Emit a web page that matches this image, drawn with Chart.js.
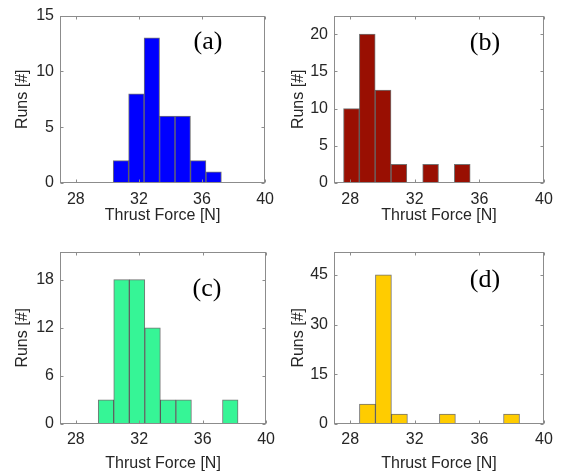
<!DOCTYPE html>
<html><head><meta charset="utf-8">
<script src="https://cdn.jsdelivr.net/npm/chart.js@4.4.0/dist/chart.umd.min.js"></script>
<style>
html,body{margin:0;padding:0;background:#fff;}
#wrap{position:relative;width:562px;height:472px;}
.p{position:absolute;width:281px;height:236px;}
canvas{display:block;}
</style></head><body>
<div id="wrap">
<div class="p" style="left:0;top:0"><canvas id="c0" width="281" height="236"></canvas></div>
<div class="p" style="left:281px;top:0"><canvas id="c1" width="281" height="236"></canvas></div>
<div class="p" style="left:0;top:236px"><canvas id="c2" width="281" height="236"></canvas></div>
<div class="p" style="left:281px;top:236px"><canvas id="c3" width="281" height="236"></canvas></div>
</div>
<script>
// ---- data ----
const xTicks = [28, 32, 36, 40];
const xMin = 27, xMax = 40;
const panelLabels = ['(a)', '(b)', '(c)', '(d)'];
const xTitle = 'Thrust Force [N]';
const yTitle = 'Runs [#]';

const binsA = [30.86, 31.84, 32.82, 33.80, 34.78, 35.76, 36.74];
const runsA = [2, 8, 13, 6, 6, 2, 1];
const binsB = [28.08, 29.06, 30.04, 31.02, 32.98, 34.94];
const runsB = [10, 20, 12.5, 2.5, 2.5, 2.5];
const binsC = [29.90, 30.88, 31.86, 32.84, 33.82, 34.80, 37.74];
const runsC = [3, 18, 18, 12, 3, 3, 3];
const binsD = [29.07, 30.06, 31.05, 34.02, 37.99];
const runsD = [6, 45, 3, 3, 3];

const yTicksA = [0, 5, 10, 15];
const yTicksB = [0, 5, 10, 15, 20];
const yTicksC = [0, 6, 12, 18];
const yTicksD = [0, 15, 30, 45];
const yMaxes = [15, 22.5, 21.5, 52];

// ---- styles / layout ----
const colors = ['#0000ff', '#990f02', '#36f596', '#ffcc00'];
const layouts = [
  {L: 60, R: 268, T: 14, B: 183, yTitlePad: 12.9, xPad: 7, xTitlePad: 11, labDX: 148, labDY: 27},
  {L: 53, R: 263, T: 14, B: 183, yTitlePad: 7.9,  xPad: 7, xTitlePad: 11, labDX: 151, labDY: 28},
  {L: 60, R: 268, T: 14, B: 188, yTitlePad: 12.9, xPad: 6, xTitlePad: -1, labDX: 147, labDY: 38},
  {L: 53, R: 263, T: 14, B: 188, yTitlePad: 7.9,  xPad: 6, xTitlePad: -1, labDX: 151, labDY: 29}
];
const W = 281, H = 236;
const font = {family: '"Liberation Sans", Arial, sans-serif', size: 16};
const textColor = '#262626';
const frameColor = '#8c8c8c';

const frame = {
  id: 'frame',
  afterDatasetsDraw(chart, args, opts) {
    const {ctx, chartArea: ca, scales: {x, y}} = chart;
    ctx.save();
    ctx.strokeStyle = frameColor;
    ctx.lineWidth = 1;
    const l = Math.round(ca.left) + 0.5, r = Math.round(ca.right) - 0.5;
    const t = Math.round(ca.top) + 0.5, b = Math.round(ca.bottom) - 0.5;
    ctx.strokeRect(l, t, r - l, b - t);
    const tl = 3;
    ctx.beginPath();
    x.ticks.forEach(tk => {
      const px = Math.round(x.getPixelForValue(tk.value)) + 0.5;
      ctx.moveTo(px, b); ctx.lineTo(px, b - tl);
      ctx.moveTo(px, t); ctx.lineTo(px, t + tl);
    });
    y.ticks.forEach(tk => {
      const py = Math.round(y.getPixelForValue(tk.value)) + 0.5;
      ctx.moveTo(l, py); ctx.lineTo(l + tl, py);
      ctx.moveTo(r, py); ctx.lineTo(r - tl, py);
    });
    ctx.stroke();
    ctx.fillStyle = '#000';
    ctx.font = '26px "Liberation Serif", "Times New Roman", serif';
    ctx.textAlign = 'center';
    ctx.textBaseline = 'middle';
    ctx.fillText(opts.label, ca.left + opts.dx, ca.top + opts.dy);
    ctx.restore();
  }
};

const binsAll = [binsA, binsB, binsC, binsD];
const runsAll = [runsA, runsB, runsC, runsD];
const yTicksAll = [yTicksA, yTicksB, yTicksC, yTicksD];

for (let i = 0; i < 4; i++) {
  const lay = layouts[i];
  const pts = binsAll[i].map((v, k) => ({x: v, y: runsAll[i][k]}));
  new Chart(document.getElementById('c' + i), {
    type: 'bar',
    data: {datasets: [{
      data: pts,
      backgroundColor: colors[i],
      borderColor: 'rgba(0,0,0,0.55)',
      borderWidth: 1,
      barPercentage: 1,
      categoryPercentage: 1
    }]},
    options: {
      responsive: false,
      animation: false,
      devicePixelRatio: 1,
      layout: {padding: {left: 0, right: W - lay.R, top: lay.T, bottom: 0}},
      plugins: {
        legend: {display: false},
        tooltip: {enabled: false},
        frame: {label: panelLabels[i], dx: lay.labDX, dy: lay.labDY}
      },
      scales: {
        x: {
          type: 'linear', min: xMin, max: xMax, offset: false,
          afterBuildTicks: s => { s.ticks = xTicks.map(v => ({value: v})); },
          afterFit: s => { s.height = H - lay.B; },
          grid: {display: false, drawTicks: false},
          border: {display: false},
          ticks: {font, color: textColor, padding: lay.xPad, autoSkip: false, maxRotation: 0},
          title: {display: true, text: xTitle, font, color: textColor, padding: {top: 0, bottom: lay.xTitlePad}}
        },
        y: {
          type: 'linear', min: 0, max: yMaxes[i],
          afterBuildTicks: s => { s.ticks = yTicksAll[i].map(v => ({value: v})); },
          afterFit: s => { s.width = lay.L; },
          grid: {display: false, drawTicks: false},
          border: {display: false},
          ticks: {font, color: textColor, padding: 6, autoSkip: false},
          title: {display: true, text: yTitle, font, color: textColor, padding: {top: lay.yTitlePad, bottom: 0}}
        }
      }
    },
    plugins: [frame]
  });
}
</script>
</body></html>
